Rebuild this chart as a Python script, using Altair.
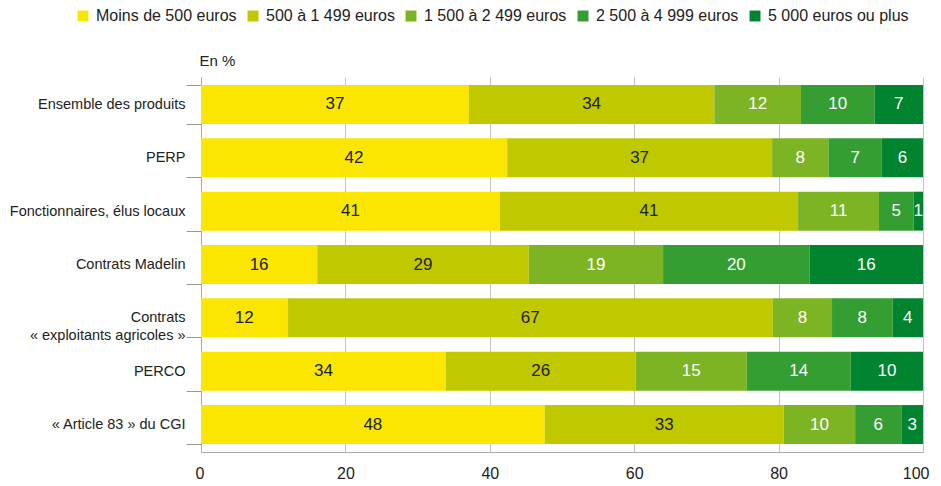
import altair as alt
import pandas as pd

categories = [
    "Ensemble des produits",
    "PERP",
    "Fonctionnaires, élus locaux",
    "Contrats Madelin",
    "Contrats|« exploitants agricoles »",
    "PERCO",
    "« Article 83 » du CGI",
]
series = [
    "Moins de 500 euros",
    "500 à 1 499 euros",
    "1 500 à 2 499 euros",
    "2 500 à 4 999 euros",
    "5 000 euros ou plus",
]
s1 = [37.1, 42.4, 41.4, 16.1, 12.0, 33.9, 47.6]
s2 = [34.0, 36.7, 41.3, 29.3, 67.2, 26.3, 33.1]
s3 = [12.0, 7.8, 11.2, 18.6, 8.2, 15.4, 9.9]
s4 = [10.2, 7.4, 4.8, 20.3, 8.4, 14.4, 6.4]
s5 = [6.7, 5.7, 1.3, 15.7, 4.2, 10.0, 3.0]
colors = ["#FAE600", "#C0C800", "#7DB424", "#359E32", "#00842F"]

rows = []
for si, (name, vals) in enumerate(zip(series, [s1, s2, s3, s4, s5])):
    for c, v in zip(categories, vals):
        rows.append({"cat": c, "serie": name, "order": si, "value": v})
df = pd.DataFrame(rows)

FONT = "Liberation Sans"

base = alt.Chart(df).transform_stack(
    stack="value", groupby=["cat"], as_=["x0", "x1"],
    sort=[alt.SortField("order", order="ascending")]
).transform_calculate(mid="(datum.x0 + datum.x1) / 2")

yenc = alt.Y(
    "cat:N", sort=categories,
    scale=alt.Scale(paddingInner=0.27, paddingOuter=0.15),
    axis=alt.Axis(
        title="En %", titleAngle=0, titleAlign="left", titleBaseline="bottom",
        titleX=-2, titleY=-9, titleFontWeight="normal", titleFontSize=15,
        titleFont=FONT, titleColor="#222",
        labelExpr="split(datum.label, '|')", labelFont=FONT, labelFontSize=14.5,
        labelColor="#222", labelPadding=1, labelLimit=300,
        tickBand="extent", tickSize=15,
        tickColor="#999", domainColor="#aaa", labelLineHeight=18,
    ),
)

bars = base.mark_bar().encode(
    x=alt.X("x0:Q", scale=alt.Scale(domain=[0, 100]),
            axis=alt.Axis(values=[0, 20, 40, 60, 80, 100], title=None,
                          grid=True, gridColor="#c4c4c4", domainColor="#aaa",
                          tickSize=0, labelPadding=13, labelFont=FONT,
                          labelFlush=True, labelFlushOffset=6,
                          labelFontSize=16, labelColor="#222")),
    x2="x1:Q",
    y=yenc,
    color=alt.Color("serie:N", sort=series,
                    scale=alt.Scale(domain=series, range=colors),
                    legend=alt.Legend(orient="none", direction="horizontal",
                                      legendX=-126, legendY=-69, title=None,
                                      symbolType="square", symbolSize=120,
                                      symbolStrokeWidth=0, labelFont=FONT,
                                      labelFontSize=16, labelColor="#222",
                                      columnPadding=8, labelOffset=5)),
)

labels = base.mark_text(font=FONT, fontSize=17).encode(
    x="mid:Q",
    y=alt.Y("cat:N", sort=categories),
    text=alt.Text("value:Q", format=".0f"),
    color=alt.condition("datum.order < 2", alt.value("#222"), alt.value("white")),
)

chart = alt.layer(bars, labels).properties(
    width=722, height=375,
    autosize=alt.AutoSizeParams(type="none"),
    padding={"left": 193, "top": 69, "right": 10, "bottom": 30},
).configure_view(stroke=None)

chart.save("out.html", embed_options={"renderer": "svg", "actions": False})
